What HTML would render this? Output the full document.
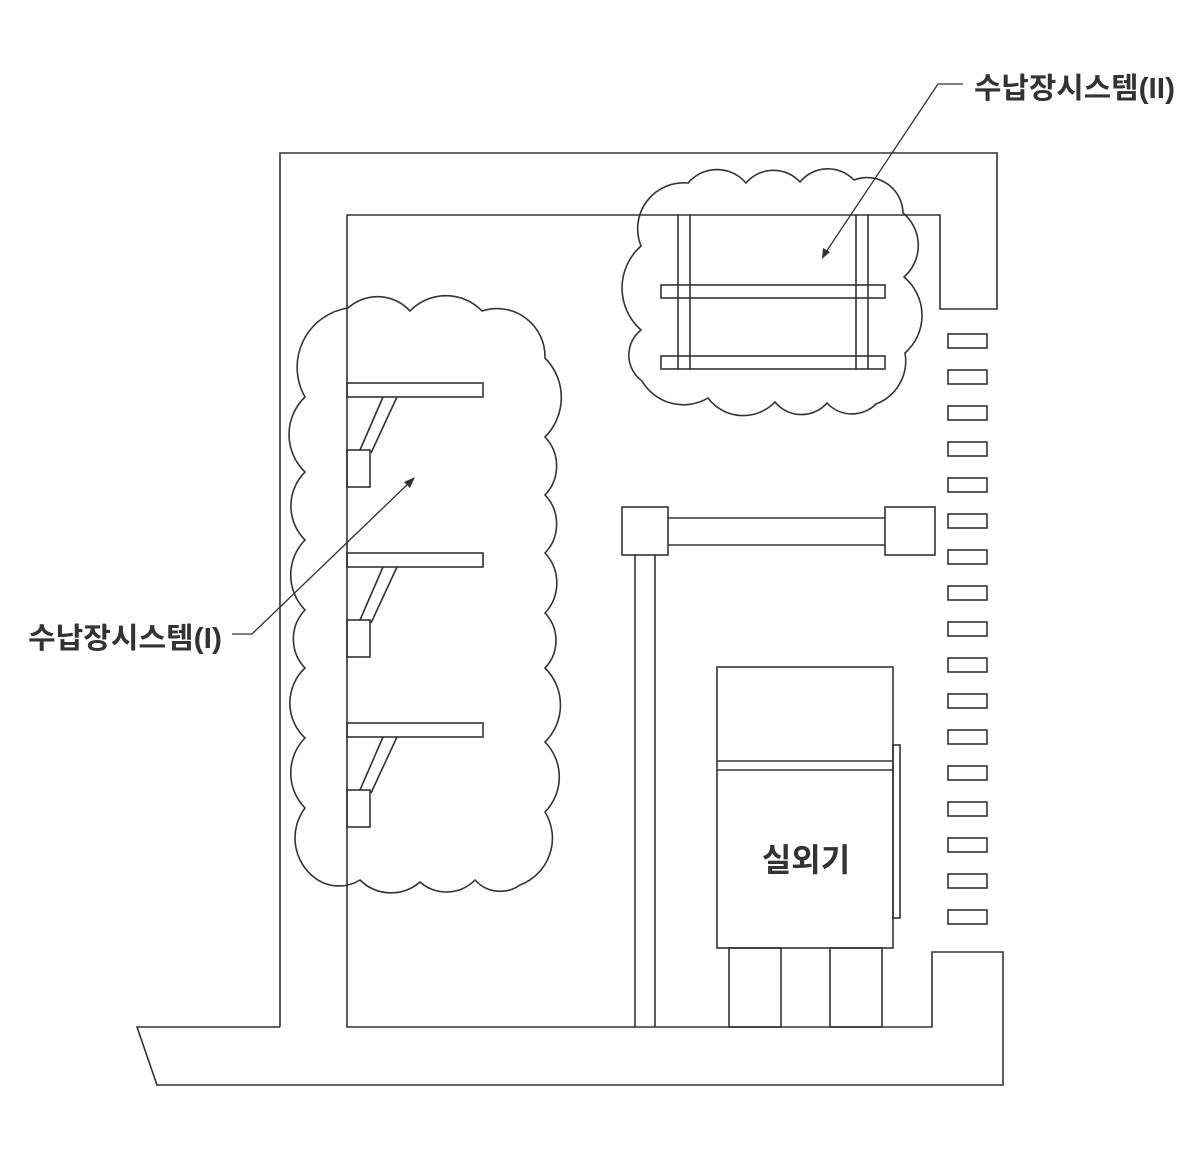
<!DOCTYPE html>
<html><head><meta charset="utf-8"><style>
html,body{margin:0;padding:0;background:#fff}
svg{display:block}
text{font-family:"Liberation Sans","Noto Sans CJK KR",sans-serif;font-weight:bold;fill:#333}
</style></head><body>
<svg width="1202" height="1172" viewBox="0 0 1202 1172" xmlns="http://www.w3.org/2000/svg">
<g fill="none" stroke="#333" stroke-width="1.6">
<path d="M280,1027 L280,153 L997,153 L997,309 L940,309 L940,215 L347,215 L347,1027 L932,1027 L932,952 L1003,952 L1003,1085 L157,1085 L137,1027 L280,1027"/>
<g>
<rect x="948" y="334" width="39" height="14"/><rect x="948" y="370" width="39" height="14"/>
<rect x="948" y="406" width="39" height="14"/><rect x="948" y="442" width="39" height="14"/>
<rect x="948" y="478" width="39" height="14"/><rect x="948" y="514" width="39" height="14"/>
<rect x="948" y="550" width="39" height="14"/><rect x="948" y="586" width="39" height="14"/>
<rect x="948" y="622" width="39" height="14"/><rect x="948" y="658" width="39" height="14"/>
<rect x="948" y="694" width="39" height="14"/><rect x="948" y="730" width="39" height="14"/>
<rect x="948" y="766" width="39" height="14"/><rect x="948" y="802" width="39" height="14"/>
<rect x="948" y="838" width="39" height="14"/><rect x="948" y="874" width="39" height="14"/>
<rect x="948" y="910" width="39" height="14"/>
</g>
<rect x="661" y="285" width="224" height="13" fill="#fff"/>
<rect x="661" y="356" width="224" height="13" fill="#fff"/>
<line x1="678" y1="215" x2="678" y2="369"/><line x1="690" y1="215" x2="690" y2="369"/>
<line x1="856" y1="215" x2="856" y2="369"/><line x1="868" y1="215" x2="868" y2="369"/>
<path d="M688,183 A38,38 0 0 1 746,183 A36,36 0 0 1 800,182 A36,36 0 0 1 854,180 A36,36 0 0 1 903,213 A42,42 0 0 1 904,277 A50,50 0 0 1 905,353 A46,46 0 0 1 876,404 A34,34 0 0 1 827,403 A34,34 0 0 1 775,402 A44,44 0 0 1 708,398 A48,48 0 0 1 642,381 A32,32 0 0 1 641,330 A56,56 0 0 1 641,246 A46,46 0 0 1 688,183 Z"/>
<g id="sh">
<rect x="347" y="383" width="136" height="14"/>
<line x1="383" y1="397" x2="360" y2="450"/><line x1="397" y1="397" x2="371" y2="453"/>
<rect x="347" y="450" width="23" height="37"/>
</g>
<use href="#sh" y="170"/>
<use href="#sh" y="340"/>
<path d="M348,308 A44,44 0 0 1 410,311 A50,50 0 0 1 482,311 A48,48 0 0 1 545,358 A56,56 0 0 1 545,437 A42,42 0 0 1 545,495 A42,42 0 0 1 545,553 A44,44 0 0 1 545,613 A40,40 0 0 1 545,668 A52,52 0 0 1 545,742 A50,50 0 0 1 545,812 A50,50 0 0 1 520,885 A34,34 0 0 1 475,880 A40,40 0 0 1 420,882 A44,44 0 0 1 360,880 A40,40 0 0 1 315,878 A50,50 0 0 1 305,808 A50,50 0 0 1 305,738 A48,48 0 0 1 305,668 A42,42 0 0 1 305,610 A50,50 0 0 1 305,540 A48,48 0 0 1 305,472 A52,52 0 0 1 305,397 A60,60 0 0 1 348,308 Z"/>
<rect x="622" y="507" width="46" height="48"/>
<rect x="885" y="507" width="50" height="48"/>
<line x1="668" y1="518" x2="885" y2="518"/><line x1="668" y1="545" x2="885" y2="545"/>
<line x1="635" y1="555" x2="635" y2="1027"/><line x1="655" y1="555" x2="655" y2="1027"/>
<rect x="717" y="667" width="176" height="281"/>
<line x1="717" y1="761" x2="893" y2="761"/><line x1="717" y1="770" x2="893" y2="770"/>
<rect x="893" y="745" width="7" height="173"/>
<rect x="729" y="948" width="52" height="79"/>
<rect x="830" y="948" width="52" height="79"/>
<polyline points="963,84 938,84 826,252" stroke-width="1.3"/>
<polyline points="232,634 252,634 410,482" stroke-width="1.3"/>
</g>
<path d="M822,259 L823,248 L830,252 Z" fill="#333"/>
<path d="M415,477 L404,482 L410,488 Z" fill="#333"/>
<text x="974" y="98" font-size="29" textLength="201" lengthAdjust="spacingAndGlyphs">수납장시스템(II)</text>
<text x="28" y="648" font-size="29" textLength="194" lengthAdjust="spacingAndGlyphs">수납장시스템(I)</text>
<text x="806" y="871" font-size="32" text-anchor="middle">실외기</text>
</svg>
</body></html>
